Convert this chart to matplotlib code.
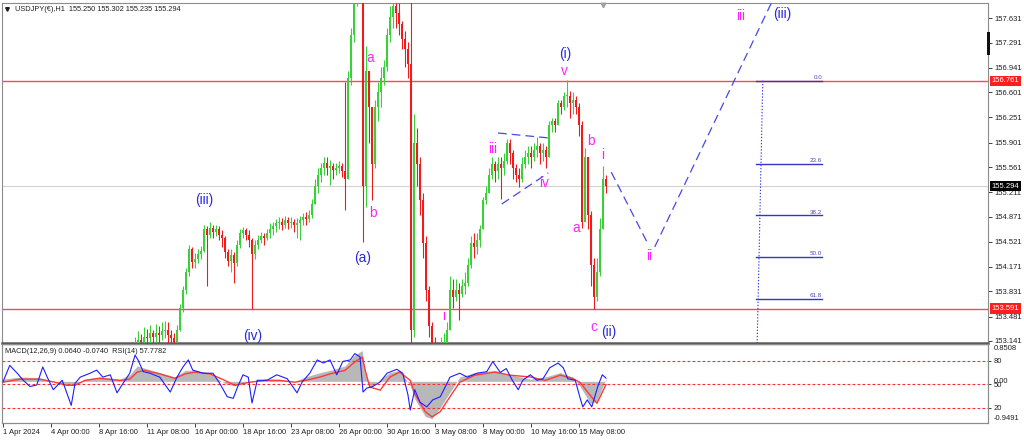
import matplotlib
matplotlib.use("Agg")
import matplotlib.pyplot as plt
import matplotlib.transforms as mtransforms
from matplotlib.patches import Rectangle
import numpy as np

plt.rcParams['font.family'] = ['Liberation Sans', 'DejaVu Sans']

# ---------------- data ----------------
symbol_title = "USDJPY(€),H1  155.250 155.302 155.235 155.294"
indicator_title = "MACD(12,26,9) 0.0640 -0.0740  RSI(14) 57.7782"

# x axis unit: H1 bar index (0 = 1 Apr 2024 00:00); candles shown every 4 bars
candle_first_bar = 176
candle_step = 4
first_open = 153.00
close = [153.08, 153.15, 153.12, 153.20, 153.18, 153.25, 153.20, 153.25, 153.22, 153.28,
         153.30, 153.22, 153.18, 153.12, 153.30, 153.60, 153.85, 154.10, 154.42, 154.24,
         154.28, 154.35, 154.40, 154.70, 154.62, 154.72, 154.66, 154.70, 154.62, 154.58,
         154.38, 154.26, 154.34, 154.22, 154.48, 154.65, 154.68, 154.62, 154.55, 154.35,
         154.48, 154.55, 154.60, 154.58, 154.64, 154.70, 154.74, 154.78, 154.80, 154.76,
         154.82, 154.78, 154.80, 154.76, 154.78, 154.82, 154.86, 154.84, 154.90, 155.05,
         155.30, 155.45, 155.55, 155.62, 155.55, 155.58, 155.52, 155.55, 155.58, 155.50,
         155.40, 156.80, 157.40, 157.85, 158.30, 159.80, 155.30, 156.90, 156.40, 155.60,
         156.40, 156.60, 156.80, 156.95, 157.40, 157.65, 157.80, 157.70, 157.55, 157.35,
         157.20, 157.00, 153.30, 155.90, 155.60, 155.10, 154.50, 153.85, 153.35, 153.00,
         152.30, 152.00, 152.60, 152.90, 153.30, 153.85, 153.75, 153.85, 153.80, 153.90,
         153.95, 154.20, 154.50, 154.45, 154.55, 154.70, 155.10, 155.20, 155.45, 155.60,
         155.50, 155.60, 155.55, 155.65, 155.90, 155.75, 155.55, 155.45, 155.40, 155.60,
         155.70, 155.75, 155.70, 155.80, 155.85, 155.75, 155.80, 155.70, 156.15, 156.20,
         156.15, 156.45, 156.40, 156.55, 156.55, 156.45, 156.50, 156.40, 156.15, 154.80,
         155.70, 154.90, 154.20, 153.75, 154.10, 154.70, 155.40, 155.294]
high = [153.20, 153.28, 153.24, 153.33, 153.31, 153.36, 153.30, 153.38, 153.35, 153.40,
        153.42, 153.40, 153.30, 153.25, 153.36, 153.65, 153.90, 154.15, 154.47, 154.45,
        154.36, 154.42, 154.46, 154.76, 154.74, 154.80, 154.76, 154.76, 154.74, 154.68,
        154.60, 154.42, 154.42, 154.38, 154.55, 154.70, 154.73, 154.72, 154.68, 154.58,
        154.55, 154.62, 154.66, 154.65, 154.70, 154.78, 154.80, 154.84, 154.86, 154.85,
        154.88, 154.87, 154.86, 154.84, 154.85, 154.88, 154.92, 154.94, 154.96, 155.12,
        155.40, 155.55, 155.62, 155.70, 155.70, 155.66, 155.62, 155.62, 155.65, 155.62,
        156.75, 156.90, 157.50, 157.95, 158.50, 160.20, 159.90, 157.25, 156.88, 156.40,
        156.50, 156.75, 156.95, 157.05, 157.50, 157.80, 157.95, 157.90, 157.85, 157.60,
        157.45, 157.30, 157.90, 156.30, 156.10, 155.70, 155.20, 154.60, 153.90, 153.40,
        153.20, 153.10, 153.20, 153.25, 153.40, 154.05, 154.00, 154.00, 153.95, 154.00,
        154.10, 154.30, 154.60, 154.65, 154.65, 154.75, 155.15, 155.30, 155.55, 155.70,
        155.65, 155.70, 155.70, 155.75, 155.95, 155.95, 155.80, 155.60, 155.55, 155.70,
        155.80, 155.85, 155.85, 155.90, 155.98, 155.90, 155.90, 155.85, 156.20, 156.25,
        156.25, 156.50, 156.50, 156.60, 156.77, 156.62, 156.60, 156.55, 156.45, 156.20,
        155.82, 155.70, 154.95, 154.30, 154.30, 154.85, 155.57, 155.45]
low = [152.90, 153.00, 153.00, 153.05, 153.05, 153.10, 153.05, 153.12, 153.05, 153.15,
       153.18, 153.10, 153.05, 152.98, 153.05, 153.28, 153.55, 153.80, 154.05, 154.15,
       154.16, 154.22, 154.28, 154.38, 153.90, 154.58, 154.58, 154.60, 154.55, 154.45,
       154.30, 154.18, 154.10, 153.95, 154.18, 154.44, 154.58, 154.55, 154.45, 153.59,
       154.28, 154.42, 154.50, 154.48, 154.54, 154.58, 154.62, 154.66, 154.70, 154.68,
       154.72, 154.70, 154.72, 154.66, 154.57, 154.55, 154.76, 154.76, 154.80, 154.85,
       155.05, 155.20, 155.35, 155.45, 155.45, 155.31, 155.40, 155.45, 155.48, 155.42,
       154.96, 155.40, 156.70, 157.30, 157.80, 158.20, 154.52, 155.00, 155.90, 155.10,
       155.55, 156.20, 156.40, 156.70, 156.90, 157.30, 157.50, 157.50, 157.40, 157.20,
       156.95, 156.80, 153.00, 153.20, 155.30, 154.90, 154.30, 153.70, 153.20, 152.50,
       151.90, 151.86, 152.20, 152.50, 152.90, 153.30, 153.60, 153.70, 153.43, 153.75,
       153.80, 153.90, 154.15, 154.30, 154.35, 154.45, 154.70, 155.05, 155.20, 155.40,
       155.35, 155.40, 155.12, 155.45, 155.60, 155.60, 155.40, 155.35, 155.28, 155.35,
       155.55, 155.60, 155.55, 155.65, 155.70, 155.60, 155.65, 155.55, 155.70, 156.05,
       156.05, 156.15, 156.30, 156.35, 156.40, 156.25, 156.30, 156.30, 156.00, 154.72,
       154.80, 154.70, 153.90, 153.59, 153.70, 154.05, 154.70, 155.20]

price_ticks = [157.631, 157.291, 156.941, 156.601, 156.251, 155.901, 155.561,
               155.211, 154.871, 154.521, 154.171, 153.831, 153.481, 153.141]
price_min, price_max = 153.113, 157.844
resistance = 156.761
support = 153.591
last_price = 155.294

date_tick_bars = [0, 64, 128, 192, 256, 320, 384, 448, 512, 576, 640, 704, 768]
date_tick_labels = ["1 Apr 2024", "4 Apr 00:00", "8 Apr 16:00", "11 Apr 08:00",
                    "16 Apr 00:00", "18 Apr 16:00", "23 Apr 08:00", "26 Apr 00:00",
                    "30 Apr 16:00", "3 May 08:00", "8 May 00:00", "10 May 16:00",
                    "15 May 08:00"]

rsi_bar = [0, 9, 19, 27, 36, 45, 53, 59, 67, 79, 85, 91, 96, 103, 116, 125, 133, 143, 152, 160,
           169, 176, 180, 187, 196, 209, 223, 232, 240, 247, 253, 267, 280, 289, 299, 307, 313,
           320, 327, 332, 339, 352, 365, 379, 392, 399, 409, 419, 427, 436, 445, 453, 463, 469,
           476, 480, 485, 493, 503, 512, 525, 533, 540, 543, 549, 556, 565, 573, 583, 592, 596,
           609, 619, 632, 645, 653, 663, 671, 679, 687, 693, 703, 712, 720, 729, 740, 747, 753,
           763, 769, 773, 779, 785, 789, 793, 799, 804]
rsi_val = [53, 74, 64, 55, 47, 49, 72, 59, 43, 55, 39, 23, 51, 59, 64, 68, 59, 62, 39, 51,
           64, 87, 81, 66, 64, 59, 40, 59, 72, 81, 68, 64, 64, 51, 34, 32, 47, 62, 59, 26,
           55, 55, 62, 57, 39, 53, 64, 81, 77, 81, 62, 79, 81, 89, 85, 40, 45, 47, 53, 64,
           69, 64, 36, 17, 43, 27, 21, 30, 34, 51, 59, 64, 59, 64, 66, 79, 65, 70, 55, 43,
           55, 62, 55, 57, 71, 77, 71, 57, 55, 34, 21, 30, 21, 34, 47, 62, 57.78]
rsi_levels = [80, 50, 20]

macd_bar = [0, 23, 49, 69, 85, 96, 109, 129, 156, 169, 179, 189, 209, 229, 243, 256, 276, 296,
            309, 329, 349, 369, 389, 403, 423, 436, 456, 469, 479, 483, 489, 503, 516, 529, 543,
            549, 563, 572, 583, 596, 609, 629, 656, 676, 703, 723, 743, 759, 769, 783, 792, 804]
macd_main = [0.05, 0.10, 0.08, 0.0, -0.10, -0.08, 0.05, 0.10, 0.05, 0.15,
             0.35, 0.30, 0.20, 0.10, 0.25, 0.25, 0.18, -0.05, -0.10, 0.0,
             0.05, 0.05, 0.0, 0.10, 0.20, 0.25, 0.35, 0.60, 0.70, 0.20,
             -0.15, 0.05, 0.20, 0.25, -0.10, -0.40, -0.80, -0.85, -0.60, -0.25,
             0.10, 0.20, 0.25, 0.15, 0.05, 0.10, 0.20, 0.10, -0.10, -0.50, -0.45, 0.064]
macd_signal = [-0.02, 0.05, 0.05, -0.02, -0.09, -0.09, 0.02, 0.07, 0.02, 0.05,
               0.21, 0.25, 0.17, 0.07, 0.17, 0.21, 0.17, 0.02, -0.09, -0.02,
               0.02, 0.02, -0.02, 0.02, 0.10, 0.17, 0.25, 0.44, 0.55, 0.25,
               -0.13, -0.20, 0.10, 0.21, 0.02, -0.28, -0.69, -0.81, -0.69, -0.35,
               -0.02, 0.14, 0.21, 0.14, 0.10, 0.02, 0.14, 0.07, -0.02, -0.32, -0.50, -0.074]
macd_min, macd_max = -0.9491, 0.8508

# Elliott-wave annotations (bar, price)
wave_text = ["(iii)", "(iv)", "(a)", "a", "b", "i", "iii", "iv", "v", "(i)",
             "a", "b", "c", "(ii)", "i", "ii", "iii", "(iii)"]
wave_bar = [268, 333, 480, 489, 493, 587, 653, 721, 748, 749, 764, 784, 788, 808, 800, 861, 983, 1039]
wave_price = [155.10, 153.21, 154.30, 157.08, 154.92, 153.49, 155.81, 155.34, 156.90, 157.13,
              154.71, 155.92, 153.34, 153.27, 155.73, 154.32, 157.66, 157.69]

proj1_bar, proj1_price = [811, 860], [155.49, 154.49]
proj2_bar, proj2_price = [869, 1027], [154.45, 157.90]
tri_up_bar, tri_up_price = [660, 729], [156.035, 155.965]
tri_lo_bar, tri_lo_price = [665, 727], [155.047, 155.479]

fib_high, fib_low = 156.761, 151.86
fib_ratios = [0.0, 23.6, 38.2, 50.0, 61.8]
fib_bar_start, fib_bar_end = 1004, 1092
fib_vert_bar = [1013, 1003]

# ---------------- figure ----------------
W, H = 1024, 441
fig = plt.figure(figsize=(W / 100, H / 100), dpi=100)
fig.patch.set_facecolor("white")


def rect(x0, y0, x1, y1):
    return [x0 / W, 1 - y1 / H, (x1 - x0) / W, (y1 - y0) / H]


XL = (-1.33, 1313.3)
ax = fig.add_axes(rect(2, 3, 988, 343))
ax2 = fig.add_axes(rect(2, 344, 988, 423))
ax3 = ax2.twinx()

GREEN = "#3ccf3c"
RED = "#f01c1c"
BLUE = "#2828dc"
MAG = "#ff22ff"

# candles
n = len(close)
bars = candle_first_bar + candle_step * np.arange(n)
c = np.array(close)
o = np.concatenate([[first_open], c[:-1]])
hi = np.array(high)
lo = np.array(low)
up = c >= o
cols = np.where(up, GREEN, RED)
ax.vlines(bars, lo, hi, colors=cols, lw=0.8, zorder=3)
body = np.where(np.abs(c - o) < 0.012, 0.012, c - o)
ax.bar(bars, body, bottom=o, width=2.4, color=cols, edgecolor="none", zorder=4)

ax.axhline(resistance, color="#ff4848", lw=1.0, zorder=2)
ax.axhline(support, color="#ff4848", lw=1.0, zorder=2)
ax.axhline(last_price, color="#d2d2d2", lw=0.8, zorder=1)

# projection & triangle lines
for bx, py in [(proj1_bar, proj1_price), (proj2_bar, proj2_price),
               (tri_up_bar, tri_up_price), (tri_lo_bar, tri_lo_price)]:
    ax.plot(bx, py, color="#4848e4", lw=0.9, dashes=(7, 4), zorder=5)

# fibonacci
for r in fib_ratios:
    lv = fib_high - r / 100.0 * (fib_high - fib_low)
    ax.plot([fib_bar_start, fib_bar_end], [lv, lv], color="#3434c8", lw=1.0, zorder=5)
    ax.text(fib_bar_end, lv + 0.01, f"{r:.1f}", ha="right", va="bottom",
            fontsize=4.5, color="#4a4ab8", zorder=6)
ax.plot(fib_vert_bar, [fib_high, fib_low], color="#3434e0", lw=0.8, dashes=(1.2, 1.6), zorder=5)

# wave labels
for t, b, p in zip(wave_text, wave_bar, wave_price):
    col = BLUE if t.startswith("(") else MAG
    ax.text(b, p, t, ha="center", va="center", fontsize=9.8, color=col, zorder=7)

ax.set_xlim(*XL)
ax.set_ylim(price_min, price_max)
ax.set_xticks([])
ax.yaxis.tick_right()
ax.set_yticks(price_ticks)
ax.set_yticklabels([f"{t:.3f}" for t in price_ticks])
ax.tick_params(axis="y", length=3, width=0.6, pad=1.5, labelsize=5.5, colors="#202020")
for s in ax.spines.values():
    s.set_color("#8c8c8c")
    s.set_linewidth(0.8)
ax.spines["bottom"].set_color("#5a5a5a")
ax.spines["bottom"].set_linewidth(1.8)

# price boxes on the axis
bt = mtransforms.blended_transform_factory(ax.transAxes, ax.transData)
for val, fc in [(resistance, "#ff1e1e"), (last_price, "#000000"), (support, "#ff1e1e")]:
    ax.text(1.004, val, f"{val:.3f}", transform=bt, ha="left", va="center", fontsize=5.5,
            color="white", zorder=10, clip_on=False,
            bbox=dict(boxstyle="square,pad=0.22", fc=fc, ec="none"))

ax.text(0.0132, 0.982, symbol_title, transform=ax.transAxes, ha="left", va="center",
        fontsize=5.3, color="#202020")
ax.plot([0.0055], [0.982], marker="v", ms=2.6, color="#202020", transform=ax.transAxes,
        clip_on=False)
ax.plot([800], [157.816], marker="v", ms=3.2, color="#a0a0a0", clip_on=False, zorder=8)
fig.patches.append(Rectangle((987 / W, 1 - 55 / H), 2.5 / W, 23 / H, transform=fig.transFigure,
                             fc="#101010", ec="none"))

# ---------------- MACD / RSI panel ----------------
ax2.fill_between(macd_bar, 0, macd_main, color="#b8b8b8", lw=0, zorder=1)
ax2.plot(macd_bar, macd_signal, color="#ff3a3a", lw=1.0, zorder=2)
ax2.set_ylim(macd_min, macd_max)
ax2.set_xlim(*XL)
ax2.set_yticks([])

for lv in rsi_levels:
    ax3.axhline(lv, color="#ff2a2a", lw=0.8, dashes=(2.5, 2.0), zorder=1)
ax3.plot(rsi_bar, rsi_val, color="#1e1eff", lw=0.8, zorder=3)
ax3.set_ylim(0.5, 101.3)
ax3.set_xlim(*XL)
ax3.set_yticks(rsi_levels)
ax3.set_yticklabels([str(v) for v in rsi_levels])
ax3.tick_params(axis="y", length=2.5, width=0.6, pad=1.5, labelsize=5.5, colors="#202020")

rt = mtransforms.blended_transform_factory(ax2.transAxes, ax2.transData)
ax2.text(1.006, 0.0, "0.00", transform=rt, ha="left", va="center", fontsize=5.5, color="#202020")
ax2.text(1.006, 0.985, "0.8508", transform=ax2.transAxes, ha="left", va="top", fontsize=5.5,
         color="#202020")
ax2.text(1.006, 0.015, "-0.9491", transform=ax2.transAxes, ha="left", va="bottom", fontsize=5.5,
         color="#202020")
ax2.text(0.003, 0.911, indicator_title, transform=ax2.transAxes, ha="left", va="center",
         fontsize=5.3, color="#202020")

ax2.set_xticks(date_tick_bars)
ax2.set_xticklabels(date_tick_labels)
for lab in ax2.get_xticklabels():
    lab.set_horizontalalignment("left")
ax2.tick_params(axis="x", length=3, width=0.6, pad=1.5, labelsize=5.5, colors="#202020")
for a in (ax2, ax3):
    for s in a.spines.values():
        s.set_color("#8c8c8c")
        s.set_linewidth(0.8)
ax2.spines["top"].set_color("#5a5a5a")
ax2.spines["top"].set_linewidth(1.0)

fig.savefig("out.png", dpi=100, facecolor="white")
